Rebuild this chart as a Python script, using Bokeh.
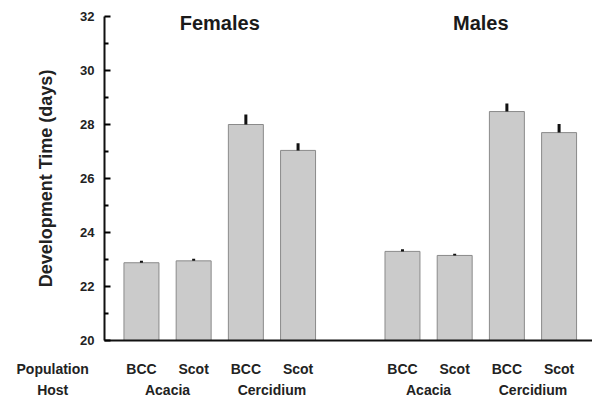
from bokeh.plotting import figure
from bokeh.models import (LinearAxis, FixedTicker, Label, ColumnDataSource, Range1d)
from bokeh.embed import file_html
from bokeh.resources import INLINE

# ---- data ----
sexes = ["Females", "Males"]
hosts = ["Acacia", "Acacia", "Cercidium", "Cercidium"]
populations = ["BCC", "Scot", "BCC", "Scot"]
female_means = [22.88, 22.95, 28.00, 27.04]
female_se = [0.07, 0.08, 0.37, 0.27]
male_means = [23.30, 23.15, 28.48, 27.70]
male_se = [0.08, 0.06, 0.30, 0.32]
y_ticks = [20, 22, 24, 26, 28, 30, 32]
row_titles = ["Population", "Host"]

FONT = "Liberation Sans"

# positions: one slot per bar, one empty slot between sex groups
n = len(populations)
xs, tops, errs, pops = [], [], [], []
for g, (means, ses) in enumerate([(female_means, female_se), (male_means, male_se)]):
    for i in range(n):
        xs.append(g * (n + 1) + i)
        tops.append(means[i])
        errs.append(means[i] + ses[i])
        pops.append(populations[i])

src = ColumnDataSource(dict(x=xs, top=tops, err=errs, pop=pops))

X0 = -0.71      # where the value axis stands
XROW = -1.70    # centre of the row titles
XMAX = 8.64
YMIN, YMAX = y_ticks[0], y_ticks[-1]
PAD = 0.2963    # room for the end tick labels

p = figure(width=592, height=400, output_backend="svg", toolbar_location=None,
           x_range=Range1d(-2.70, XMAX), y_range=Range1d(YMIN - PAD, YMAX + PAD),
           min_border_left=0, min_border_top=8, min_border_right=0,
           min_border_bottom=52, x_axis_type=None, y_axis_type=None)
p.outline_line_color = None
p.xgrid.visible = False
p.ygrid.visible = False

p.vbar(x="x", top="top", bottom=YMIN, width=0.67, source=src,
       fill_color="#cbcbcb", line_color="#8a8a8a", line_width=1)
p.segment(x0="x", y0="top", x1="x", y1="err", source=src,
          line_color="#111111", line_width=3)

# x axis line (baseline from the value axis to the right edge)
p.segment(x0=[X0], y0=[YMIN], x1=[XMAX], y1=[YMIN], line_color="#111111", line_width=2)

def style_labels(ax, size):
    ax.major_label_text_font = FONT
    ax.major_label_text_font_style = "bold"
    ax.major_label_text_font_size = size
    ax.major_label_text_color = "#222222"

# y axis
ya = LinearAxis(ticker=FixedTicker(ticks=y_ticks, minor_ticks=list(range(21, 32, 2))),
                axis_label="Development Time (days)", fixed_location=X0,
                bounds=(YMIN, YMAX))
ya.axis_line_width = 2
ya.axis_line_color = "#111111"
ya.major_tick_in = 6
ya.major_tick_out = 0
ya.minor_tick_in = 4
ya.minor_tick_out = 0
ya.major_tick_line_width = 2
ya.minor_tick_line_width = 2
ya.major_label_standoff = 10
style_labels(ya, "13px")
ya.axis_label_text_font = FONT
ya.axis_label_text_font_style = "bold"
ya.axis_label_text_font_size = "18px"
ya.axis_label_text_color = "#222222"
ya.axis_label_standoff = 21
p.add_layout(ya, "left")

# x axis: population row
pop_ticks = [XROW] + xs
pop_labels = [row_titles[0]] + pops
xa = LinearAxis(ticker=FixedTicker(ticks=pop_ticks),
                major_label_overrides={x: t for x, t in zip(pop_ticks, pop_labels)})
xa.axis_line_color = None
xa.major_tick_line_color = None
xa.minor_tick_line_color = None
xa.major_tick_in = 0
xa.major_tick_out = 0
xa.major_label_standoff = 12
style_labels(xa, "14px")
p.add_layout(xa, "below")

# x axis: host row
host_pos, host_names = [XROW], [row_titles[1]]
for g in range(len(sexes)):
    for h in ["Acacia", "Cercidium"]:
        idx = [g * (n + 1) + i for i in range(n) if hosts[i] == h]
        host_pos.append(sum(idx) / len(idx))
        host_names.append(h)
xh = LinearAxis(ticker=FixedTicker(ticks=host_pos),
                major_label_overrides={x: h for x, h in zip(host_pos, host_names)})
xh.axis_line_color = None
xh.major_tick_line_color = None
xh.minor_tick_line_color = None
xh.major_tick_in = 0
xh.major_tick_out = 0
xh.major_label_standoff = 2
style_labels(xh, "14px")
p.add_layout(xh, "below")

# group titles
for g, s in enumerate(sexes):
    cx = g * (n + 1) + (n - 1) / 2
    p.add_layout(Label(x=cx, y=31.75, text=s, text_align="center", text_baseline="middle",
                       text_font=FONT, text_font_style="bold", text_font_size="20px",
                       text_color="#1a1a1a"))

open("out.html", "w").write(file_html(p, INLINE))
